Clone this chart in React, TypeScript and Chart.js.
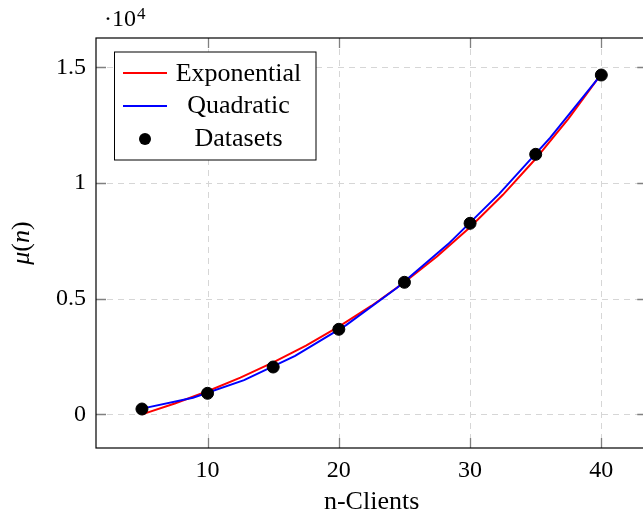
import React, { useEffect, useRef } from "react";
import { Chart, registerables } from "chart.js";

Chart.register(...registerables);

// ---- data ----
const pointX = [5, 10, 15, 20, 25, 30, 35, 40];
const pointY = [233, 912, 2048, 3678, 5709, 8258, 11240, 14667];

const expX = [5, 7.5, 10, 12.5, 15, 17.5, 20, 22.5, 25, 27.5, 30, 32.5, 35, 37.5, 40];
const expY = [0, 474, 1002, 1590, 2246, 2977, 3791, 4698, 5709, 6836, 8091, 9490, 11048, 12786, 14720];

const quadX = [5, 8.89, 12.78, 16.67, 20.56, 24.44, 28.33, 32.22, 36.11, 40];
const quadY = [250, 720, 1480, 2530, 3860, 5470, 7360, 9530, 11960, 14690];

const xTicks = [10, 20, 30, 40];
const yTicks = [0, 5000, 10000, 15000];
const yTickLabels = ["0", "0.5", "1", "1.5"];

const legendLabels = ["Exponential", "Quadratic", "Datasets"];
const xTitle = "n-Clients";

const CANVAS_W = 660;
const CANVAS_H = 516;
const SERIF = "'Liberation Serif', 'DejaVu Serif', serif";

const decorPlugin = {
  id: "decor",
  beforeDatasetsDraw(chart: any) {
    const { ctx, chartArea: a, scales } = chart;
    const xs = scales.x, ys = scales.y;
    ctx.save();
    ctx.strokeStyle = "#d6d6d6";
    ctx.lineWidth = 1;
    ctx.setLineDash([6, 5]);
    for (const v of xTicks) {
      const px = Math.round(xs.getPixelForValue(v)) + 0.5;
      ctx.beginPath();
      ctx.moveTo(px, a.top);
      ctx.lineTo(px, a.bottom);
      ctx.stroke();
    }
    for (const v of yTicks) {
      const py = Math.round(ys.getPixelForValue(v)) + 0.5;
      ctx.beginPath();
      ctx.moveTo(a.left, py);
      ctx.lineTo(a.right, py);
      ctx.stroke();
    }
    ctx.restore();
  },
  afterDraw(chart: any) {
    const { ctx, chartArea: a, scales } = chart;
    const xs = scales.x, ys = scales.y;
    ctx.save();
    // tick marks (inside, both sides)
    ctx.strokeStyle = "#808080";
    ctx.lineWidth = 1.3;
    const tl = 10;
    for (const v of xTicks) {
      const px = Math.round(xs.getPixelForValue(v)) + 0.5;
      ctx.beginPath();
      ctx.moveTo(px, a.bottom);
      ctx.lineTo(px, a.bottom - tl);
      ctx.moveTo(px, a.top);
      ctx.lineTo(px, a.top + tl);
      ctx.stroke();
    }
    for (const v of yTicks) {
      const py = Math.round(ys.getPixelForValue(v)) + 0.5;
      ctx.beginPath();
      ctx.moveTo(a.left, py);
      ctx.lineTo(a.left + tl, py);
      ctx.moveTo(a.right, py);
      ctx.lineTo(a.right - tl, py);
      ctx.stroke();
    }
    // frame
    ctx.strokeStyle = "#000";
    ctx.lineWidth = 1.2;
    ctx.strokeRect(a.left, a.top, a.right - a.left, a.bottom - a.top);

    // legend
    const lx = 114.5, ly = 52, lw = 201.5, lh = 108;
    ctx.fillStyle = "#fff";
    ctx.fillRect(lx, ly, lw, lh);
    ctx.strokeStyle = "#000";
    ctx.lineWidth = 1;
    ctx.strokeRect(lx, ly, lw, lh);
    const rowsY = [73, 106, 139];
    const baselines = [80.5, 113, 146];
    const colors = ["#ff0000", "#0000ff"];
    ctx.lineWidth = 2;
    for (let i = 0; i < 2; i++) {
      ctx.strokeStyle = colors[i];
      ctx.beginPath();
      ctx.moveTo(123, rowsY[i]);
      ctx.lineTo(167, rowsY[i]);
      ctx.stroke();
    }
    ctx.fillStyle = "#000";
    ctx.beginPath();
    ctx.arc(145, rowsY[2], 6, 0, Math.PI * 2);
    ctx.fill();
    ctx.font = `26px ${SERIF}`;
    ctx.textAlign = "center";
    ctx.textBaseline = "alphabetic";
    for (let i = 0; i < 3; i++) {
      ctx.fillText(legendLabels[i], 238.5, baselines[i]);
    }

    // x title
    ctx.font = `26px ${SERIF}`;
    ctx.fillText(xTitle, (a.left + a.right) / 2, 509);

    // multiplier
    ctx.textAlign = "left";
    ctx.font = `24px ${SERIF}`;
    ctx.fillText("\u00b710", 104, 26);
    const w = ctx.measureText("\u00b710").width;
    ctx.font = `17px ${SERIF}`;
    ctx.fillText("4", 104 + w + 1, 19);

    // y title (rotated)
    ctx.save();
    ctx.translate(29, (a.top + a.bottom) / 2);
    ctx.rotate(-Math.PI / 2);
    const parts: [string, boolean][] = [["\u03bc", true], ["(", false], ["n", true], [")", false]];
    let total = 0;
    const widths: number[] = [];
    for (const [t, it] of parts) {
      ctx.font = `${it ? "italic " : ""}26px ${SERIF}`;
      const ww = ctx.measureText(t).width;
      widths.push(ww);
      total += ww;
    }
    let cx = -total / 2;
    ctx.textAlign = "left";
    parts.forEach(([t, it], i) => {
      ctx.font = `${it ? "italic " : ""}26px ${SERIF}`;
      ctx.fillText(t, cx, 0);
      cx += widths[i];
    });
    ctx.restore();

    ctx.restore();
  },
};

export default function App() {
  const ref = useRef<HTMLCanvasElement>(null);
  useEffect(() => {
    document.body.style.margin = "0";
    const canvas = ref.current!;
    const chart = new Chart(canvas, {
      type: "scatter",
      data: {
        datasets: [
          {
            label: legendLabels[2],
            data: pointX.map((x, i) => ({ x, y: pointY[i] })),
            backgroundColor: "#000",
            borderColor: "#000",
            pointRadius: 6,
            pointHoverRadius: 6,
            showLine: false,
            order: 0,
          },
          {
            label: legendLabels[1],
            data: quadX.map((x, i) => ({ x, y: quadY[i] })),
            borderColor: "#0000ff",
            backgroundColor: "#0000ff",
            borderWidth: 2,
            pointRadius: 0,
            showLine: true,
            tension: 0,
            order: 1,
          },
          {
            label: legendLabels[0],
            data: expX.map((x, i) => ({ x, y: expY[i] })),
            borderColor: "#ff0000",
            backgroundColor: "#ff0000",
            borderWidth: 2,
            pointRadius: 0,
            showLine: true,
            tension: 0,
            order: 2,
          },
        ],
      },
      options: {
        responsive: false,
        maintainAspectRatio: false,
        animation: false,
        devicePixelRatio: 1,
        layout: { padding: { left: 0, top: 38, right: CANVAS_W - 647.25, bottom: 0 } },
        plugins: { legend: { display: false }, tooltip: { enabled: false }, title: { display: false } },
        scales: {
          x: {
            type: "linear",
            position: "bottom",
            min: 1.5,
            max: 43.5,
            grid: { display: false, drawTicks: false },
            border: { display: false },
            afterBuildTicks: (s: any) => {
              s.ticks = xTicks.map((v) => ({ value: v }));
            },
            afterFit: (s: any) => {
              s.height = CANVAS_H - 448;
            },
            ticks: {
              color: "#000",
              font: { family: SERIF, size: 24 },
              padding: 8,
              maxRotation: 0,
              callback: (v: any) => String(v),
            },
          },
          y: {
            type: "linear",
            position: "left",
            min: -1452,
            max: 16267,
            grid: { display: false, drawTicks: false },
            border: { display: false },
            afterBuildTicks: (s: any) => {
              s.ticks = yTicks.map((v) => ({ value: v }));
            },
            afterFit: (s: any) => {
              s.width = 96;
            },
            ticks: {
              color: "#000",
              font: { family: SERIF, size: 24 },
              padding: 10,
              callback: (v: any) => {
                const i = yTicks.indexOf(v);
                return i >= 0 ? yTickLabels[i] : "";
              },
            },
          },
        },
      },
      plugins: [decorPlugin],
    });
    return () => chart.destroy();
  }, []);

  return (
    <div
      style={{
        position: "fixed",
        left: 0,
        top: 0,
        width: 643,
        height: 516,
        overflow: "hidden",
        background: "#fff",
      }}
    >
      <canvas ref={ref} width={CANVAS_W} height={CANVAS_H} style={{ width: CANVAS_W, height: CANVAS_H, display: "block" }} />
    </div>
  );
}
